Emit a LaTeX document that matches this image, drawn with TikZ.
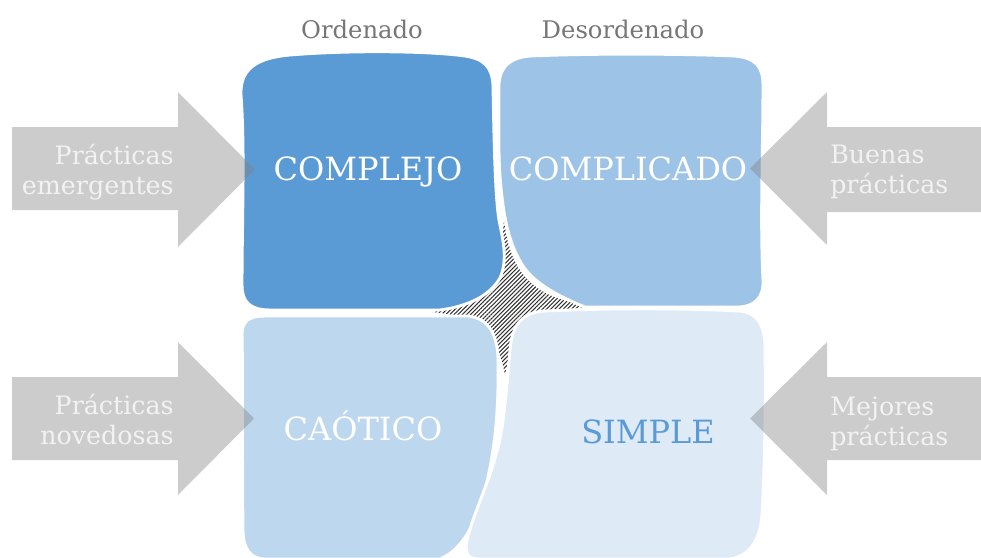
\documentclass[tikz,border=0pt]{standalone}
\usepackage{fontspec}
\setmainfont{DejaVu Serif}
\usepackage{tikz}
\usetikzlibrary{patterns.meta}

\definecolor{complejoC}{RGB}{91,155,213}
\definecolor{complicadoC}{RGB}{157,195,230}
\definecolor{caoticoC}{RGB}{189,215,238}
\definecolor{simpleC}{RGB}{222,235,247}
\definecolor{headgray}{RGB}{118,118,118}
\definecolor{sidetxt}{RGB}{242,242,242}

\begin{document}
\begin{tikzpicture}[x=0.75pt,y=0.75pt,yscale=-1,xscale=1,
  blob/.style={draw=white, line width=2.2pt},
  flecha/.style={fill=black!50, fill opacity=0.4},
  boxlbl/.style={font=\fontsize{24}{28}\selectfont, text=white, anchor=base, inner sep=0pt},
  sidelbl/.style={font=\fontsize{19}{22.5}\selectfont, text=sidetxt, inner sep=0pt},
  headlbl/.style={font=\fontsize{18.2}{20}\selectfont, text=headgray, anchor=base, inner sep=0pt}]
\useasboundingbox (0,0) rectangle (981,557);

%Hatched centre
\path [pattern={Lines[angle=45,distance=2.2pt,line width=0.8pt]}, pattern color=black!80] (504,220) .. controls (510,275) and (535,298) .. (590,306) .. controls (535,314) and (512,335) .. (505,375) .. controls (498,335) and (480,316) .. (432,312) .. controls (480,305) and (500,275) .. (504,220) -- cycle ;

%Shape: COMPLEJO
\draw [blob, fill=complejoC] (241,95) .. controls (240,70) and (255,58) .. (290,55) .. controls (350,50) and (430,51) .. (465,56) .. controls (485,59) and (492,68) .. (493,85) .. controls (494,140) and (495,195) .. (499,220) .. controls (503,240) and (508,260) .. (500,278) .. controls (490,295) and (470,306) .. (440,310) -- (270,310) .. controls (250,310) and (242,302) .. (242,285) .. controls (242,220) and (245,150) .. (241,95) -- cycle ;
%Shape: COMPLICADO
\draw [blob, fill=complicadoC] (499,90) .. controls (498,72) and (505,58) .. (530,56) .. controls (600,53) and (690,54) .. (735,56) .. controls (755,58) and (763,66) .. (763,85) .. controls (763,150) and (760,220) .. (763,280) .. controls (764,297) and (755,306) .. (740,307) -- (585,307) .. controls (560,297) and (535,284) .. (523,266) .. controls (513,250) and (508,235) .. (504,212) .. controls (501,192) and (499,170) .. (499,150) -- cycle ;
%Shape: CAOTICO
\draw [blob, fill=caoticoC] (242,335) .. controls (242,320) and (250,316) .. (265,316) -- (468,316) .. controls (487,318) and (497,332) .. (498,358) .. controls (499,410) and (495,450) .. (485,490) .. controls (475,525) and (462,550) .. (440,559) -- (265,559) .. controls (250,559) and (243,548) .. (243,530) .. controls (242,450) and (243,380) .. (242,335) -- cycle ;
%Shape: SIMPLE
\draw [blob, fill=simpleC] (545,311) .. controls (610,308) and (680,308) .. (740,311) .. controls (758,313) and (764,325) .. (765,345) .. controls (766,420) and (764,480) .. (762,515) .. controls (760,540) and (750,556) .. (730,559) -- (478,559) .. controls (466,559) and (464,550) .. (468,536) .. controls (478,500) and (498,465) .. (503,420) .. controls (507,390) and (508,370) .. (510,350) .. controls (512,325) and (522,312) .. (545,311) -- cycle ;

%Arrows
\path [flecha] (12,127) -- (178,127) -- (178,92) -- (255,169.5) -- (178,247) -- (178,210) -- (12,210) -- cycle ;
\path [flecha] (12,377) -- (178,377) -- (178,342) -- (254,418.5) -- (178,495) -- (178,460) -- (12,460) -- cycle ;
\path [flecha] (981,127) -- (827,127) -- (827,92) -- (750,168.5) -- (827,245) -- (827,212) -- (981,212) -- cycle ;
\path [flecha] (981,377) -- (827,377) -- (827,342) -- (750,418.5) -- (827,495) -- (827,460) -- (981,460) -- cycle ;

% Text Node
\node [headlbl] (ordenado) at (362,38) {Ordenado};
% Text Node
\node [headlbl] (desordenado) at (623,38) {Desordenado};
% Text Node
\node [boxlbl] (complejo) at (368,180) {COMPLEJO};
% Text Node
\node [boxlbl] (complicado) at (628,180) {COMPLICADO};
% Text Node
\node [boxlbl] (caotico) at (363,440) {CAÓTICO};
% Text Node
\node [boxlbl, text=complejoC] (simple) at (648,443) {SIMPLE};
% Text Node
\node [sidelbl, align=right, anchor=east] (emergentes) at (174,172) {Prácticas\\emergentes};
% Text Node
\node [sidelbl, align=right, anchor=east] (novedosas) at (174,420) {Prácticas\\novedosas};
% Text Node
\node [sidelbl, align=left, anchor=west] (buenas) at (830,172) {Buenas\\prácticas};
% Text Node
\node [sidelbl, align=left, anchor=west] (mejores) at (830,424) {Mejores\\prácticas};

\end{tikzpicture}
\end{document}
